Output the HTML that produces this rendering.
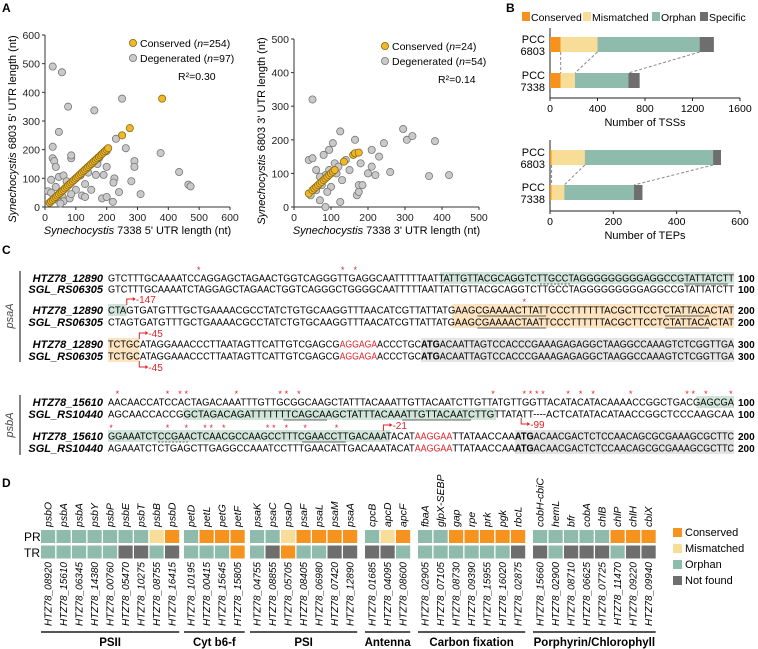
<!DOCTYPE html>
<html><head><meta charset="utf-8">
<style>
html,body{margin:0;padding:0;background:#fff;}
svg{display:block;font-family:"Liberation Sans",Arial,sans-serif;}
</style></head>
<body>
<svg id="fig" width="758" height="649" viewBox="0 0 758 649" xmlns="http://www.w3.org/2000/svg">
<g id="pA"></g>
<g id="pB"></g>
<g id="pC"></g>
<g id="pD"></g>
</svg>
<script>
// ===== Panel A data =====
const a1ConsX = [15,20,25,30,35,40,45,50,55,60,65,70,75,80,85,90,95,100,105,110,115,120,125,130,135,140,145,150,155,160,165,170,175,180,185,190,195,200,205,250,275,380];
const a1ConsY = [15,20,25,30,35,40,45,50,55,60,65,70,75,80,85,90,95,100,105,110,115,120,125,130,135,140,145,150,155,160,165,170,175,180,185,190,195,200,205,250,275,378];
const a1DegX = [25,55,75,45,160,250,375,435,465,472,310,280,220,240,290,290,262,225,222,200,200,190,185,200,165,140,140,130,120,100,85,85,25,25,30,35,45,20,10,20,35,55,60,80,100,115,130,150,60,70,85,170,175,230,40,50];
const a1DegY = [490,470,350,262,337,378,188,122,78,72,45,90,18,52,160,140,205,100,85,195,140,112,30,35,112,140,120,80,40,60,170,180,210,170,160,140,105,95,55,50,70,40,20,30,100,110,35,60,110,90,45,150,170,238,25,12];
const a2ConsX = [40,50,55,60,65,70,75,80,85,90,95,100,105,110,135,160,165,175];
const a2ConsY = [40,50,55,60,65,70,75,80,85,90,95,100,105,110,135,155,160,162];
const a2DegX = [50,40,50,80,95,105,125,165,180,210,220,210,170,175,175,185,125,85,70,60,45,75,100,95,110,130,85,115,120,60,70,90,295,305,320,381,260,365,419,243,150,140,200,230];
const a2DegY = [320,140,145,155,170,190,225,200,130,120,95,170,35,45,65,65,15,0,20,50,35,65,60,110,130,80,95,100,120,110,90,45,232,200,211,196,104,92,95,190,110,140,100,150];
const a1Ticks = [0,100,200,300,400,500,600];
const a2XTicks = [0,100,200,300,400,500];
const a2YTicks = [0,100,200,300,400,500];

// ===== Panel B data =====
const bCats = ["Conserved","Mismatched","Orphan","Specific"];
const tss6803 = [90,310,860,120];
const tss7338 = [90,120,450,95];
const tep6803 = [5,105,405,25];
const tep7338 = [5,40,220,27];
const tssTicks = [0,400,800,1200,1600];
const tepTicks = [0,200,400,600];

// ===== Panel D data =====
const dGroups = ["PSII","Cyt b6-f","PSI","Antenna","Carbon fixation","Porphyrin/Chlorophyll"];
const dGenes = [
 ["psbO","psbA","psbA","psbY","psbP","psbE","psbT","psbB","psbD"],
 ["petD","petL","petG","petF"],
 ["psaK","psaC","psaD","psaF","psaL","psaM","psaA"],
 ["cpcB","apcD","apcF"],
 ["fbaA","glpX-SEBP","gap","rpe","prk","pgk","rbcL"],
 ["cobH-cbiC","hemL","bfr","cobA","chlB","chlP","chlH","cbiX"]];
const dIds = [
 ["08920","15610","06345","14380","00760","05470","10275","08755","16415"],
 ["10195","00415","15645","15805"],
 ["04755","08855","05705","08405","06980","07420","12890"],
 ["01685","04095","08600"],
 ["02905","07105","08730","09390","15955","16020","02875"],
 ["15660","02900","08710","06625","07725","11470","09220","09940"]];
const dPR = ["OOOOOOOMC","OCCC","OOMCCCC","OMC","OOCCCCC","OOOOOCCC"];
const dTR = ["OOOOONNON","OOOC","ONCOONN","NNO","OOOOOON","NONNNONN"];

const NS="http://www.w3.org/2000/svg";
function mk(parent,tag,attrs,text){const e=document.createElementNS(NS,tag);for(const k in attrs)e.setAttribute(k,attrs[k]);if(text!==undefined)e.textContent=text;parent.appendChild(e);return e;}
const ORANGE="#F5931E",LIGHT="#F8DD99",TEAL="#8FBBAC",DARK="#6E6E6E",GOLD="#EFB82A";

// ---------- Panel A ----------
const pA=document.getElementById('pA');
let t=mk(pA,'text',{x:2,y:12,'font-size':12,'font-weight':'bold'},'A');


function scatter(g,o){
  const sx=v=>o.x0+(v-o.xmin)/(o.xmax-o.xmin)*(o.x1-o.x0);
  const sy=v=>o.y0-(v-o.ymin)/(o.ymax-o.ymin)*(o.y0-o.y1);
  let ax=mk(g,'line',{x1:o.x0,y1:o.y0,x2:o.x1,y2:o.y0,stroke:'#333','stroke-width':1});
  
  
  let ay=mk(g,'line',{x1:o.x0,y1:o.y0,x2:o.x0,y2:o.y1,stroke:'#333','stroke-width':1});
  
  
  o.xt.forEach(v=>{mk(g,'line',{x1:sx(v),y1:o.y0,x2:sx(v),y2:o.y0+3,stroke:'#333'});
    const tl=mk(g,'text',{x:sx(v),y:o.y0+14,'font-size':10.5,'text-anchor':'middle',fill:'#222'},v);
    
    });
  o.yt.forEach(v=>{mk(g,'line',{x1:o.x0-3,y1:sy(v),x2:o.x0,y2:sy(v),stroke:'#333'});
    const tl=mk(g,'text',{x:o.x0-5,y:sy(v)+4,'font-size':10.5,'text-anchor':'end',fill:'#222'},v);
    
    });
  o.dx.forEach((v,i)=>{const c=mk(g,'circle',{cx:sx(v),cy:sy(o.dy[i]),r:3.6,fill:'#C9C9C9',stroke:'#777','stroke-width':0.8});
    
    });
  o.cx.forEach((v,i)=>{const c=mk(g,'circle',{cx:sx(v),cy:sy(o.cy[i]),r:3.6,fill:GOLD,stroke:'#8a6a10','stroke-width':0.8});
    
    });
  const xl=mk(g,'text',{x:(o.x0+o.x1)/2,y:o.y0+27,'font-size':11,'text-anchor':'middle'});
  mk(xl,'tspan',{'font-style':'italic'},'Synechocystis');mk(xl,'tspan',{},' 7338 '+o.lab+' UTR  length (nt)');
  
  
  const yc=(o.y0+o.y1)/2+8;
  const yl=mk(g,'text',{x:0,y:0,'font-size':11,'text-anchor':'middle',transform:`translate(${o.x0-29},${yc}) rotate(-90)`});
  mk(yl,'tspan',{'font-style':'italic'},'Synechocystis');mk(yl,'tspan',{},' 6803 '+o.lab+' UTR  length (nt)');
  
  
  const lg=mk(g,'g',{});
  
  
  mk(lg,'circle',{cx:o.lx,cy:o.ly,r:3.6,fill:GOLD,stroke:'#8a6a10','stroke-width':0.8});
  let l1=mk(lg,'text',{x:o.lx+7,y:o.ly+4,'font-size':10.5});
  mk(l1,'tspan',{},'Conserved (');mk(l1,'tspan',{'font-style':'italic'},'n');mk(l1,'tspan',{},'='+o.nc+')');
  mk(lg,'circle',{cx:o.lx,cy:o.ly+15,r:3.6,fill:'#C9C9C9',stroke:'#777','stroke-width':0.8});
  let l2=mk(lg,'text',{x:o.lx+7,y:o.ly+19,'font-size':10.5});
  mk(l2,'tspan',{},'Degenerated (');mk(l2,'tspan',{'font-style':'italic'},'n');mk(l2,'tspan',{},'='+o.nd+')');
  let r2=mk(g,'text',{x:o.rx,y:o.ly+37,'font-size':10.5},o.r2);
  
  
}
const gA1=mk(pA,'g',{});


scatter(gA1,{x0:45,x1:230,xmin:0,xmax:600,y0:207,y1:35,ymin:0,ymax:600,xt:a1Ticks,yt:a1Ticks,dx:a1DegX,dy:a1DegY,cx:a1ConsX,cy:a1ConsY,lab:"5'",lx:133,ly:43,nc:254,nd:97,rx:178,r2:'R²=0.30'});
const gA2=mk(pA,'g',{});


scatter(gA2,{x0:294,x1:479,xmin:0,xmax:500,y0:207,y1:39,ymin:0,ymax:500,xt:a2XTicks,yt:a2YTicks,dx:a2DegX,dy:a2DegY,cx:a2ConsX,cy:a2ConsY,lab:"3'",lx:385,ly:46,nc:24,nd:54,rx:438,r2:'R²=0.14'});

// ---------- Panel B ----------
const pB=document.getElementById('pB');
t=mk(pB,'text',{x:506,y:12,'font-size':12,'font-weight':'bold'},'B');


const bCols=[ORANGE,LIGHT,TEAL,DARK];
const legX=[522,583,652,700];
bCats.forEach((c,i)=>{const g=mk(pB,'g',{});
  
  
  mk(g,'rect',{x:legX[i],y:12,width:8,height:9,fill:bCols[i]});
  mk(g,'text',{x:legX[i]+9,y:21,'font-size':10.5},c);});
function stacked(g,o){
  const sx=v=>550+v/o.max*190;
  mk(g,'line',{x1:550,y1:o.ytop,x2:550,y2:o.axy,stroke:'#222'});
  mk(g,'line',{x1:550,y1:o.axy,x2:740,y2:o.axy,stroke:'#222'});
  o.ticks.forEach(v=>{mk(g,'line',{x1:sx(v),y1:o.axy,x2:sx(v),y2:o.axy+3,stroke:'#222'});
    const tl=mk(g,'text',{x:sx(v),y:o.axy+14,'font-size':10.5,'text-anchor':'middle'},v);
    
    });
  const xt=mk(g,'text',{x:645,y:o.axy+28,'font-size':11,'text-anchor':'middle'},o.title);
  
  
  const rows=[[o.a,o.y1,'6803'],[o.b,o.y2,'7338']];
  const edges=[];
  rows.forEach(([vals,y,lab])=>{let c=0;const e=[];
    vals.forEach((v,i)=>{const r=mk(g,'rect',{x:sx(c),y:y,width:sx(c+v)-sx(c),height:15,fill:bCols[i]});
      
      
      c+=v;e.push(sx(c));});
    edges.push(e);
    const l=mk(g,'text',{x:545,y:y+6,'font-size':11,'text-anchor':'end'},'PCC');
    
    
    mk(g,'text',{x:545,y:y+18,'font-size':11,'text-anchor':'end'},lab);});
  [0,1,2].forEach(k=>mk(g,'line',{x1:edges[0][k],y1:o.y1+15,x2:edges[1][k],y2:o.y2,stroke:'#888','stroke-dasharray':'3,2'}));
}
const gB1=mk(pB,'g',{});


stacked(gB1,{a:tss6803,b:tss7338,max:1600,ticks:tssTicks,y1:37,y2:73,ytop:28,axy:98,title:'Number of TSSs'});
const gB2=mk(pB,'g',{});


stacked(gB2,{a:tep6803,b:tep7338,max:600,ticks:tepTicks,y1:150,y2:185,ytop:140,axy:211,title:'Number of TEPs'});

// ---------- Panel C ----------
const pC=document.getElementById('pC');
t=mk(pC,'text',{x:2,y:254,'font-size':12,'font-weight':'bold'},'C');


const SX=108,SW=626,CW=SW/100;
const cx=i=>SX+i*CW;
const rows=[
 {y:278,lab:'HTZ78_12890',seq:'GTCTTTGCAAAATCCAGGAGCTAGAACTGGTCAGGGTTGAGGCAATTTTTAATTATTGTTACGCAGGTCTTGCCTAGGGGGGGGGAGGCCGTATTATCTT',n:100,hl:[[53,100,'#D2E5DC']],st:[14,37,39]},
 {y:289,lab:'SGL_RS06305',seq:'GTCTTTGCAAAATCTAGGAGCTAGAACTGGTCAGGGCTGGGGCAATTTTTAATTATTGTTACGCAGGTCTTGCCTAGGGGGGGGGAGGCCGTATTATCTT',n:100,hl:[]},
 {y:310,lab:'HTZ78_12890',seq:'CTAGTGATGTTTGCTGAAAACGCCTATCTGTGCAAGGTTTAACATCGTTATTATGAAGCGAAAACTTATTCCCTTTTTTACGCTTCCTCTATTACACTAT',n:200,hl:[[0,3,'#D2E5DC'],[55,100,'#FCE4C2']],st:[66]},
 {y:322,lab:'SGL_RS06305',seq:'CTAGTGATGTTTGCTGAAAACGCCTATCTGTGCAAGGTTTAACATCGTTATTATGAAGCGAAAACTAATTCCCTTTTTTACGCTTCCTCTATTACACTAT',n:200,hl:[[55,100,'#FCE4C2']]},
 {y:344,lab:'HTZ78_12890',seq:'TCTGCATAGGAAACCCTTAATAGTTCATTGTCGAGCGAGGAGAACCCTGCATGACAATTAGTCCACCCGAAAGAGAGGCTAAGGCCAAAGTCTCGGTTGA',n:300,hl:[[0,5,'#FCE4C2'],[50,100,'#E4E4E4']],red:[37,43],bold:[50,53]},
 {y:356,lab:'SGL_RS06305',seq:'TCTGCATAGGAAACCCTTAATAGTTCATTGTCGAGCGAGGAGAACCCTGCATGACAATTAGTCCACCCGAAAGAGAGGCTAAGGCCAAAGTCTCGGTTGA',n:300,hl:[[0,5,'#FCE4C2'],[50,100,'#E4E4E4']],red:[37,43],bold:[50,53]},
 {y:402,lab:'HTZ78_15610',seq:'AACAACCATCCACTAGACAAATTTGTTGCGGCAAGCTATTTACAAATTGTTACAATCTTGTTATGTTGGTTACATACATACAAAACCGGCTGACGAGCGA',n:100,hl:[[94,100,'#D2E5DC']],st:[1,9,11,12,20,27,28,30,61,66,67,68,69,73,75,77,83,92,93,95,99]},
 {y:414,lab:'SGL_RS10440',seq:'AGCAACCACCGGCTAGACAGATTTTTTTCAGCAAGCTATTTACAAATTGTTACAATCTTGTTATATT----ACTCATATACATAACCGGCTCCCAAGCAA',n:100,hl:[[12,62,'#D2E5DC']]},
 {y:436,lab:'HTZ78_15610',seq:'GGAAATCTCCGAACTCAACGCCAAGCCTTTCGAACCTTGACAAATACATAAGGAATTATAACCAAATGACAACGACTCTCCAACAGCGCGAAAGCGCTTC',n:200,hl:[[0,45,'#D2E5DC'],[65,100,'#E4E4E4']],st:[0,9,12,15,16,18,25,26,28,31,36],red:[49,55],bold:[65,68]},
 {y:448,lab:'SGL_RS10440',seq:'AGAAATCTCTGAGCTTGAGGCCAAATCCTTTGAACATTGACAAATACATAAGGAATTATAACCAAATGACAACGACTCTCCAACAGCGCGAAAGCGCTTC',n:200,hl:[[65,100,'#E4E4E4']],red:[49,55],bold:[65,68]}
];
rows.forEach((r,ri)=>{
  const g=mk(pC,'g',{});
  
  
  r.hl.forEach(h=>mk(g,'rect',{x:cx(h[0]),y:r.y-6,width:(h[1]-h[0])*CW,height:12,fill:h[2]}));
  mk(g,'text',{x:103,y:r.y+4,'font-size':11,'font-weight':'bold','font-style':'italic','text-anchor':'end'},r.lab);
  const tx=mk(g,'text',{x:SX,y:r.y+3.6,'font-size':10});
  const cuts=new Set([0,100]);
  if(r.red){cuts.add(r.red[0]);cuts.add(r.red[1]);}
  if(r.bold){cuts.add(r.bold[0]);cuts.add(r.bold[1]);}
  const cs=[...cuts].sort((a,b)=>a-b);
  for(let k=0;k<cs.length-1;k++){
    const s=cs[k],e=cs[k+1];const at={x:cx(s),textLength:(e-s)*CW,lengthAdjust:'spacingAndGlyphs'};
    if(r.red&&s===r.red[0])at.fill='#E0262B';
    if(r.bold&&s===r.bold[0])at['font-weight']='bold';
    mk(tx,'tspan',at,r.seq.slice(s,e));
  }
  mk(g,'text',{x:738,y:r.y+4,'font-size':10,'font-weight':'bold'},r.n);
  (r.st||[]).forEach(i=>mk(g,'text',{x:cx(i)+CW/2,y:r.y-5,'font-size':9,fill:'#E0262B','text-anchor':'middle'},'*'));
});
[[310,59,70],[310,89,96],[322,59,70],[322,89,96],[278,92,99],[414,28,35],[414,47,58],[436,31,38]].forEach(u=>mk(pC,'line',{x1:cx(u[1]),y1:u[0]+6,x2:cx(u[2]),y2:u[0]+6,stroke:'#333','stroke-width':0.8}));
[[278,69,74],[436,8,13]].forEach(u=>mk(pC,'line',{x1:cx(u[1]),y1:u[0]+6,x2:cx(u[2]),y2:u[0]+6,stroke:'#333','stroke-width':0.8,'stroke-dasharray':'2,1.5'}));
function tss(x,y,lab,down){const g=mk(pC,'g',{});
  
  
  if(down){mk(g,'path',{d:`M${x} ${y-6} V${y} H${x+6}`,stroke:'#E0262B',fill:'none'});}
  else{mk(g,'path',{d:`M${x} ${y+6} V${y} H${x+6}`,stroke:'#E0262B',fill:'none'});}
  mk(g,'path',{d:`M${x+6} ${y-2} L${x+9} ${y} L${x+6} ${y+2}Z`,fill:'#E0262B'});
  mk(g,'text',{x:x+9,y:y+4,'font-size':10,fill:'#E0262B'},lab);}
tss(cx(3),299,'-147',false);tss(cx(5),333,'-45',false);tss(cx(5),367,'-45',true);
tss(cx(66),424,'-99',true);tss(cx(44),425,'-21',false);
[['psaA',271,362,316],['psbA',395,455,425]].forEach(([n,y1,y2,yc])=>{
  mk(pC,'line',{x1:20,y1:y1,x2:20,y2:y2,stroke:'#333','stroke-width':1.2});
  const l=mk(pC,'text',{x:0,y:0,'font-size':11,'font-style':'italic','text-anchor':'middle',fill:'#444',transform:`translate(13,${yc}) rotate(-90)`},n);
  
  });

// ---------- Panel D ----------
const pD=document.getElementById('pD');
t=mk(pD,'text',{x:2,y:487,'font-size':12,'font-weight':'bold'},'D');


mk(pD,'text',{x:24,y:541,'font-size':12},'PR');
mk(pD,'text',{x:24,y:557,'font-size':12},'TR');
const gStarts=[41,184,250,365,418,533],P=15.5,CWD=14.2;
const colMap={C:ORANGE,M:LIGHT,O:TEAL,N:DARK};
dGroups.forEach((gn,gi)=>{
  const g=mk(pD,'g',{});
  
  
  const x0=gStarts[gi];
  dGenes[gi].forEach((gene,j)=>{
    const x=x0+j*P;
    const c1=mk(g,'rect',{x:x,y:530,width:CWD,height:13,fill:colMap[dPR[gi][j]]});
    
    
    const c2=mk(g,'rect',{x:x,y:545.5,width:CWD,height:13,fill:colMap[dTR[gi][j]]});
    
    
    mk(g,'text',{x:0,y:0,'font-size':10.5,'font-style':'italic',transform:`translate(${x+CWD/2+3.5},527) rotate(-90)`},gene);
    mk(g,'text',{x:0,y:0,'font-size':10,'font-style':'italic','text-anchor':'end',transform:`translate(${x+CWD/2+3.5},562) rotate(-90)`},'HTZ78_'+dIds[gi][j]);
  });
  const x1=x0+dGenes[gi].length*P-1.3;
  mk(g,'line',{x1:x0,y1:632,x2:x1,y2:632,stroke:'#555','stroke-width':2});
  mk(g,'text',{x:(x0+x1)/2,y:646,'font-size':11.5,'font-weight':'bold','text-anchor':'middle'},gn);
});
[['Conserved',ORANGE,532],['Mismatched',LIGHT,548],['Orphan',TEAL,564],['Not found',DARK,580]].forEach(([n,c,y])=>{
  const g=mk(pD,'g',{});
  
  
  mk(g,'rect',{x:673,y:y-4,width:9,height:9,fill:c});
  mk(g,'text',{x:685,y:y+4,'font-size':11},n);});
</script>
</body></html>
